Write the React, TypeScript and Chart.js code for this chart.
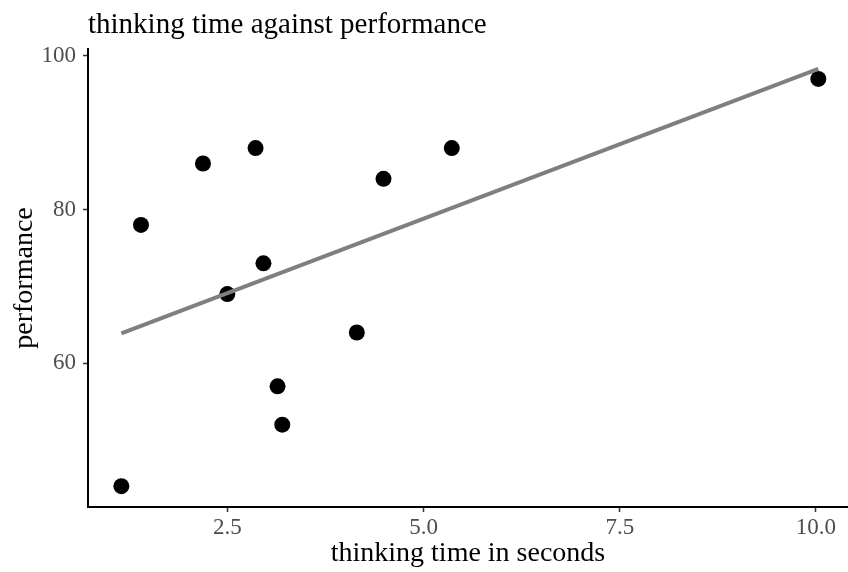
import React, { useEffect, useRef } from "react";
import { Chart, registerables } from "chart.js";

Chart.register(...registerables);

const thinkingTime = [1.15, 1.4, 2.19, 2.5, 2.86, 2.96, 3.14, 3.2, 4.15, 4.49, 5.36, 10.03];
const performance = [44, 78, 86, 69, 88, 73, 57, 52, 64, 84, 88, 97];

const fitX = [1.15, 10.03];
const fitY = [63.9, 98.3];

const xTicks = [2.5, 5.0, 7.5, 10.0];
const xTickLabels = ["2.5", "5.0", "7.5", "10.0"];
const yTicks = [60, 80, 100];
const yTickLabels = ["60", "80", "100"];

const chartTitle = "thinking time against performance";
const xTitle = "thinking time in seconds";
const yTitle = "performance";

const FONT = '"Liberation Serif", "Times New Roman", serif';

export default function App() {
  const ref = useRef<HTMLCanvasElement | null>(null);

  useEffect(() => {
    if (!ref.current) return;
    const titlePlugin = {
      id: "ggTitle",
      afterDraw(chart: any) {
        const ctx = chart.ctx;
        ctx.save();
        ctx.font = `29px ${FONT}`;
        ctx.fillStyle = "#000000";
        ctx.textAlign = "left";
        ctx.textBaseline = "alphabetic";
        ctx.fillText(chartTitle, chart.chartArea.left, 33);
        ctx.restore();
      },
    };
    const chart = new Chart(ref.current, {
      type: "scatter",
      data: {
        datasets: [
          {
            label: "fit",
            data: fitX.map((x, i) => ({ x, y: fitY[i] })),
            showLine: true,
            borderColor: "#7f7f7f",
            borderWidth: 4,
            pointRadius: 0,
            order: 0,
          },
          {
            label: "points",
            data: thinkingTime.map((x, i) => ({ x, y: performance[i] })),
            backgroundColor: "#000000",
            borderColor: "#000000",
            borderWidth: 0,
            pointRadius: 8,
            order: 1,
          },
        ],
      },
      plugins: [titlePlugin],
      options: {
        responsive: false,
        animation: false,
        layout: { autoPadding: false, padding: { top: 49, left: 0, right: 0, bottom: 0 } },
        plugins: {
          legend: { display: false },
          tooltip: { enabled: false },
          title: { display: false },
        },
        scales: {
          x: {
            type: "linear",
            min: 0.725,
            max: 10.408,
            afterBuildTicks: (s: any) => {
              s.ticks = xTicks.map((v) => ({ value: v }));
            },
            afterFit: (s: any) => {
              s.height = 65;
            },
            grid: {
              display: true,
              drawOnChartArea: false,
              drawTicks: true,
              tickLength: 5,
              tickColor: "#333333",
              tickWidth: 1.5,
            },
            border: { display: true, color: "#000000", width: 2 },
            ticks: {
              color: "#4d4d4d",
              font: { family: FONT, size: 23 },
              padding: 2,
              maxRotation: 0,
              autoSkip: false,
              callback: (v: any) => {
                const i = xTicks.indexOf(Number(v));
                return i >= 0 ? xTickLabels[i] : "";
              },
            },
            title: {
              display: true,
              text: xTitle,
              color: "#000000",
              font: { family: FONT, size: 28, lineHeight: 1.2 },
              padding: { top: 0, bottom: 2 },
            },
          },
          y: {
            type: "linear",
            min: 41.29,
            max: 100.9,
            afterBuildTicks: (s: any) => {
              s.ticks = yTicks.map((v) => ({ value: v }));
            },
            afterFit: (s: any) => {
              s.width = 88;
            },
            grid: {
              display: true,
              drawOnChartArea: false,
              drawTicks: true,
              tickLength: 5,
              tickColor: "#333333",
              tickWidth: 1.5,
            },
            border: { display: true, color: "#000000", width: 2 },
            ticks: {
              color: "#4d4d4d",
              font: { family: FONT, size: 23 },
              padding: 7,
              autoSkip: false,
              callback: (v: any) => {
                const i = yTicks.indexOf(Number(v));
                return i >= 0 ? yTickLabels[i] : "";
              },
            },
            title: {
              display: true,
              text: yTitle,
              color: "#000000",
              font: { family: FONT, size: 28, lineHeight: 1.2 },
              padding: { top: 8, bottom: 0 },
            },
          },
        },
      },
    } as any);
    return () => chart.destroy();
  }, []);

  return (
    <div style={{ position: "absolute", left: 0, top: 0, width: 848, height: 572, background: "#ffffff" }}>
      <canvas ref={ref} width={848} height={572} style={{ display: "block" }} />
    </div>
  );
}
